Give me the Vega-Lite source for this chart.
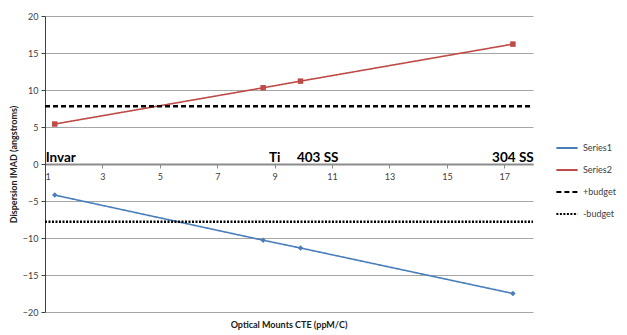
{
  "$schema": "https://vega.github.io/schema/vega-lite/v6.json",
  "autosize": {"type": "none"},
  "width": 488,
  "height": 296,
  "padding": {"left": 45, "top": 16, "right": 94, "bottom": 23},
  "background": "white",
  "config": {
    "font": "Lato",
    "view": {"stroke": null},
    "axis": {"labelFont": "Lato", "titleFont": "Lato", "labelColor": "#404040", "labelFontSize": 9}
  },
  "title": {"text": "Optical Mounts CTE (ppM/C)", "orient": "bottom", "fontSize": 9, "fontWeight": "bold", "color": "#202020", "offset": 4, "font": "Lato"},
  "datasets": {
    "series": [
      {"series": "Series1", "cte": 1.34, "imad": -4.2},
      {"series": "Series1", "cte": 8.6, "imad": -10.3},
      {"series": "Series1", "cte": 9.9, "imad": -11.35},
      {"series": "Series1", "cte": 17.3, "imad": -17.5},
      {"series": "Series2", "cte": 1.34, "imad": 5.4},
      {"series": "Series2", "cte": 8.6, "imad": 10.3},
      {"series": "Series2", "cte": 9.9, "imad": 11.2},
      {"series": "Series2", "cte": 17.3, "imad": 16.2}
    ],
    "budget": [
      {"series": "+budget", "cte": 1, "imad": 7.8},
      {"series": "+budget", "cte": 18, "imad": 7.8},
      {"series": "-budget", "cte": 1, "imad": -7.8},
      {"series": "-budget", "cte": 18, "imad": -7.8}
    ],
    "labels": [
      {"name": "Invar", "cte": 1.55, "imad": 0},
      {"name": "Ti", "cte": 9.0, "imad": 0},
      {"name": "403 SS", "cte": 10.5, "imad": 0},
      {"name": "304 SS", "cte": 17.3, "imad": 0}
    ]
  },
  "encoding": {
    "x": {"field": "cte", "type": "quantitative", "scale": {"domain": [1, 18], "nice": false, "zero": false},
      "axis": {"title": null, "values": [1, 3, 5, 7, 9, 11, 13, 15, 17], "offset": -148, "domainColor": "#8c8c8c", "domainWidth": 2, "tickColor": "#8c8c8c", "tickSize": 4, "labelPadding": 4, "grid": false, "labelOverlap": false}},
    "y": {"field": "imad", "type": "quantitative", "scale": {"domain": [-20, 20], "nice": false},
      "axis": {"title": "Dispersion IMAD (angstroms)", "titleFontSize": 9, "titleFontWeight": "bold", "titleColor": "#202020", "titlePadding": 4, "values": [-20, -15, -10, -5, 0, 5, 10, 15, 20], "labelOverlap": false, "labelFlush": false, "grid": true, "gridColor": "#a6a6a6", "gridWidth": 1, "domainColor": "#404040", "tickColor": "#404040", "tickSize": 4, "labelPadding": 3}}
  },
  "layer": [
    {
      "data": {"name": "series"},
      "mark": {"type": "line", "strokeWidth": 1.6},
      "encoding": {
        "color": {"field": "series", "type": "nominal",
          "scale": {"domain": ["Series1", "Series2", "+budget", "-budget"], "range": ["#4A7EBB", "#BE4B48", "#000000", "#000000"]},
          "legend": {"title": null, "orient": "none", "legendX": 510, "legendY": 120, "symbolType": "stroke", "symbolSize": 450, "symbolStrokeWidth": 2, "labelFontSize": 9, "labelColor": "#404040", "rowPadding": 5, "labelFont": "Lato"}},
        "strokeDash": {"field": "series", "type": "nominal",
          "scale": {"domain": ["Series1", "Series2", "+budget", "-budget"], "range": [[1, 0], [1, 0], [5, 3], [2, 1.5]]},
          "legend": null}
      }
    },
    {
      "data": {"name": "series"},
      "mark": {"type": "point", "filled": true, "opacity": 1, "size": 30},
      "encoding": {
        "color": {"field": "series", "type": "nominal"},
        "shape": {"field": "series", "type": "nominal", "scale": {"domain": ["Series1", "Series2"], "range": ["diamond", "square"]}, "legend": null}
      }
    },
    {
      "data": {"name": "budget"},
      "mark": {"type": "line", "strokeWidth": 2.5},
      "encoding": {
        "color": {"field": "series", "type": "nominal"},
        "strokeDash": {"field": "series", "type": "nominal"}
      }
    },
    {
      "data": {"name": "labels"},
      "mark": {"type": "text", "fontSize": 13.5, "fontWeight": "bold", "font": "Lato", "color": "#000000", "baseline": "alphabetic", "dy": -2},
      "encoding": {
        "text": {"field": "name"}
      }
    }
  ]
}
